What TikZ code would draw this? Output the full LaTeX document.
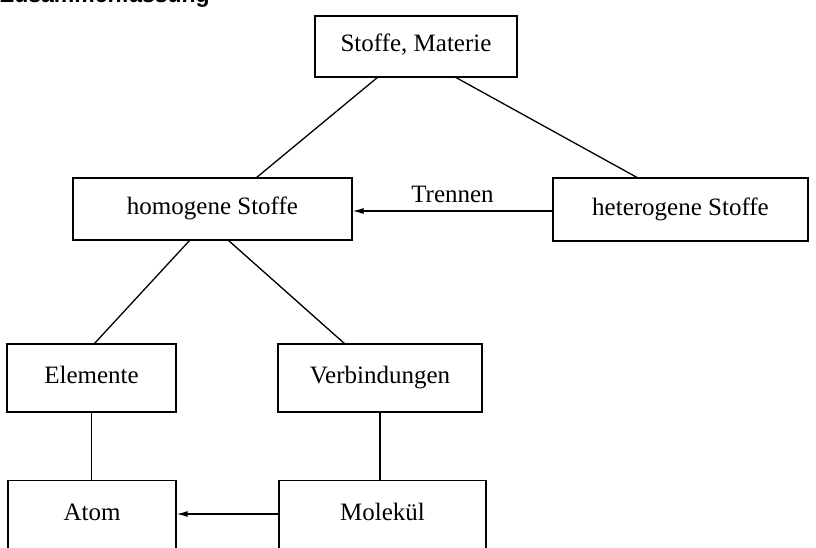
\documentclass[tikz,border=0pt]{standalone}
\usepackage{fontspec}
\setmainfont{Liberation Serif}
\newfontfamily\headfont{Liberation Sans}
\usetikzlibrary{arrows.meta}
\begin{document}
\begin{tikzpicture}[x=1pt,y=-1pt,
  box/.style={draw, line width=1.3pt, inner sep=0pt, text height=16pt, text depth=5pt, font=\fontsize{25}{28}\selectfont},
  con/.style={line width=1.3pt},
  arr/.style={line width=1.3pt, -{Latex[length=11pt,width=6pt]}}]
\useasboundingbox (0,0) rectangle (816,548);
\node[anchor=base west, inner sep=0pt, font=\headfont\bfseries\fontsize{23}{25}\selectfont] (head) at (0,2.5) {Zusammenfassung};
\node[box, minimum width=202pt, minimum height=61pt] (stoffe) at (416,46.5) {Stoffe, Materie};
\node[box, minimum width=279pt, minimum height=62pt] (homo) at (212.5,209) {homogene Stoffe};
\node[box, minimum width=255pt, minimum height=63pt] (hetero) at (680.5,209.5) {heterogene Stoffe};
\node[box, minimum width=169pt, minimum height=68pt] (elem) at (91.5,378) {Elemente};
\node[box, minimum width=204pt, minimum height=68pt] (verb) at (380,378) {Verbindungen};
\node[box, minimum width=168pt, minimum height=68pt] (atom) at (92,514.5) {Atom};
\node[box, minimum width=207pt, minimum height=68pt] (mol) at (382.5,514.5) {Molekül};
\coordinate (s1) at (378,77); \coordinate (h1) at (256,178);
\coordinate (s2) at (455,77); \coordinate (t1) at (638,178);
\draw[con] (s1) -- (h1);
\draw[con] (s2) -- (t1);
\coordinate (h2) at (190,240); \coordinate (e1) at (94,344);
\coordinate (h3) at (228,240); \coordinate (v1) at (345,344);
\draw[con] (h2) -- (e1);
\draw[con] (h3) -- (v1);
\draw[con] (elem.south) -- (elem.south |- atom.north);
\draw[con] (verb.south) -- (verb.south |- mol.north);
\draw[arr] (hetero.west |- 0,211) -- (homo.east |- 0,211) node[midway, above=4pt, font=\fontsize{25}{28}\selectfont] (trennen) {Trennen};
\draw[arr] (mol.west |- 0,514) -- (atom.east |- 0,514);
\end{tikzpicture}
\end{document}
